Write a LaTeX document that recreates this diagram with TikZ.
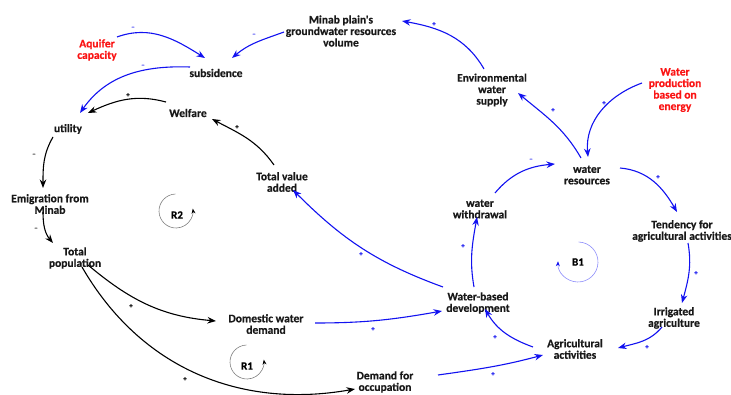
\documentclass[tikz,border=0pt]{standalone}
\usepackage{fontspec}
\setmainfont[Ligatures=TeXOff,BoldFeatures={FakeBold=0.6}]{Carlito}
\usetikzlibrary{arrows.meta,calc}
\definecolor{lnkblue}{RGB}{18,18,240}
\definecolor{exored}{RGB}{250,20,20}
\definecolor{loopblue}{RGB}{140,140,250}
\begin{document}
\begin{tikzpicture}[x=1pt,y=1pt,
  var/.style={font=\bfseries\fontsize{11.5}{11.5}\selectfont, align=center, text=black!90, inner sep=0pt},
  exo/.style={var, text=exored},
  link/.style={line width=1.1pt, -{Stealth[length=8.5pt,width=6.5pt]}},
  bl/.style={link, draw=lnkblue},
  bk/.style={link, draw=black},
  pol/.style={font=\bfseries\fontsize{7}{7}\selectfont, inner sep=0pt},
  polb/.style={pol, text=lnkblue},
  loopsym/.style={line width=0.6pt, -{Stealth[length=5pt,width=4pt,color=black]}},
  looplbl/.style={font=\bfseries\fontsize{11}{11}\selectfont, inner sep=0pt}
]
\useasboundingbox (0,0) rectangle (731,394);

% variables
\node[var] (vol)  at (341,363) {Minab plain's\\groundwater resources\\volume};
\node[exo] (aq)   at (97,344)  {Aquifer\\capacity};
\node[var] (subs) at (216,321) {subsidence};
\node[var] (util) at (68,265)  {utility};
\node[var] (welf) at (188,281) {Welfare};
\node[var] (emig) at (50,190)  {Emigration from\\Minab};
\node[var] (pop)  at (75,136)  {Total\\population};
\node[var] (tva)  at (282,212) {Total value\\added};
\node[var] (dwd)  at (266,70)  {Domestic water\\demand};
\node[var] (occ)  at (385,12)  {Demand for\\occupation};
\node[var] (wbd)  at (478,91)  {Water-based\\development};
\node[var] (ww)   at (480,185) {water\\withdrawal};
\node[var] (wr)   at (587,219) {water\\resources};
\node[var] (env)  at (492,304) {Environmental\\water\\supply};
\node[exo] (wp)   at (675,304) {Water\\production\\based on\\energy};
\node[var] (tend) at (682,163) {Tendency for\\agricultural activities};
\node[var] (irr)  at (674,76)  {Irrigated\\agriculture};
\node[var] (agr)  at (575,45)  {Agricultural\\activities};

% loop symbols
\node[looplbl] (r2) at (177,179) {R2};
\draw[loopsym, draw=black!50] ($(r2)+(-1,4)+(92:17)$) arc[start angle=92, end angle=368, radius=17];
\node[looplbl] (r1) at (247,28) {R1};
\draw[loopsym, draw=black!50] ($(r1)+(0,4)+(92:17)$) arc[start angle=92, end angle=368, radius=17];
\node[looplbl] (b1) at (578,132) {B1};
\draw[loopsym, draw=loopblue, -{Stealth[length=5pt,width=4pt,color=lnkblue]}] ($(b1)+(88:20)$) arc[start angle=88, end angle=-182, radius=20];

% causal links
\draw[bl] ($(aq)+(20,13)$)   to[out=20,in=148]  ($(subs)+(-11,15)$);
\draw[bl] ($(vol)+(-57,-1)$) to[out=200,in=40]  ($(subs)+(16,15)$);
\draw[bl] ($(subs)+(-26,6)$) to[out=178,in=55]  ($(util)+(12,16)$);
\draw[bk] ($(welf)+(-22,11)$) to[out=165,in=25] ($(util)+(20,16)$);
\draw[bk] ($(tva)+(-8,17)$)  to[out=125,in=-28] ($(welf)+(24,-6)$);
\draw[bk] ($(util)+(-15,-8)$) to[out=240,in=90] ($(emig)+(-7,16)$);
\draw[bk] ($(emig)+(-7,-8)$) to[out=270,in=130] ($(pop)+(-22,15)$);
\draw[bk] ($(pop)+(13,-7)$)  to[out=-40,in=175] ($(dwd)+(-50,3)$);
\draw[bk] ($(pop)+(7,-9)$)   to[out=-60,in=190] ($(occ)+(-30,-7)$);
\draw[bl] ($(dwd)+(49,1)$)   to[out=0,in=190]   ($(wbd)+(-36,-8)$);
\draw[bl] ($(wbd)+(-35,16)$) to[out=160,in=-45] ($(tva)+(11,-8)$);
\draw[bl] ($(wbd)+(-4,16)$)  to[out=100,in=260] ($(ww)+(-3,-8)$);
\draw[bl] ($(ww)+(15,16)$)   to[out=50,in=185]  ($(wr)+(-32,11)$);
\draw[bl] ($(wr)+(-6,17)$)   to[out=120,in=-40] ($(env)+(26,-3)$);
\draw[bl] ($(env)+(-8,21)$)  to[out=120,in=-10] ($(vol)+(61,10)$);
\draw[bl] ($(wp)+(-33,7)$)   to[out=200,in=95]  ($(wr)+(1,18)$);
\draw[bl] ($(wr)+(33,7)$)    to[out=-5,in=120]  ($(tend)+(-5,19)$);
\draw[bl] ($(tend)+(6,-12)$) to[out=-80,in=75]  ($(irr)+(8,15)$);
\draw[bl] ($(irr)+(-12,-9)$) to[out=230,in=15]  ($(agr)+(43,1)$);
\draw[bl] ($(agr)+(-42,2)$)  to[out=160,in=-60] ($(wbd)+(7,-6)$);
\draw[bl] ($(occ)+(53,7)$)   to[out=8,in=195]   ($(agr)+(-32,-6)$);

% polarities
\node[polb] (p1)  at (133,366) {–};
\node[polb] (p2)  at (254,359) {–};
\node[polb] (p3)  at (143,328) {–};
\node[pol]  (p4)  at (128,299) {+};
\node[pol]  (p5)  at (237,267) {+};
\node[pol]  (p6)  at (34,239)  {–};
\node[pol]  (p7)  at (36,165)  {–};
\node[pol]  (p8)  at (131,88)  {+};
\node[pol]  (p9)  at (185,15)  {+};
\node[polb] (p10) at (373,65)  {+};
\node[polb] (p11) at (361,140) {+};
\node[polb] (p12) at (463,148) {+};
\node[polb] (p13) at (531,234) {–};
\node[polb] (p14) at (553,284) {+};
\node[polb] (p15) at (434,370) {+};
\node[polb] (p16) at (604,291) {+};
\node[polb] (p17) at (658,217) {+};
\node[polb] (p18) at (696,121) {+};
\node[polb] (p19) at (647,47)  {+};
\node[polb] (p20) at (495,57)  {+};
\node[polb] (p21) at (493,20)  {+};
\end{tikzpicture}
\end{document}
